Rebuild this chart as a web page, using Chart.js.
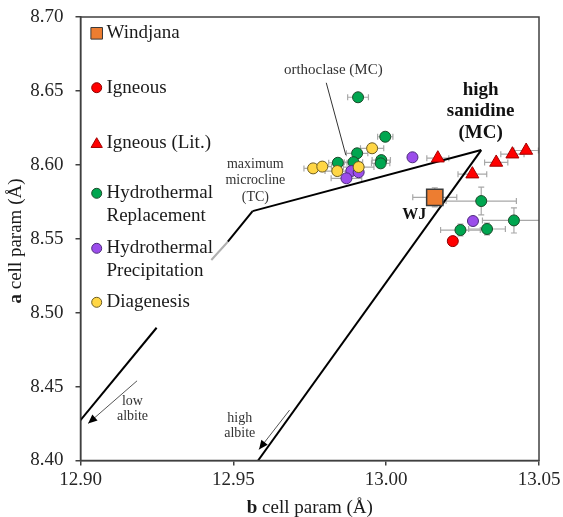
<!DOCTYPE html>
<html>
<head>
<meta charset="utf-8">
<script src="https://cdn.jsdelivr.net/npm/chart.js@4.4.1/dist/chart.umd.min.js"></script>
<style>
  html, body { margin: 0; padding: 0; background: #fff; }
</style>
</head>
<body>
<canvas id="cellChart" width="563" height="517"></canvas>
<script>
// axis ticks
const xTicks = [12.90, 12.95, 13.00, 13.05];
const yTicks = [8.40, 8.45, 8.50, 8.55, 8.60, 8.65, 8.70];

// Windjana
const wjB = [13.0159];
const wjA = [8.578];
const wjBErr = [0.0072];
const wjAErr = [0.0065];

// Igneous
const ignB = [13.0218];
const ignA = [8.5484];

// Igneous (Lit.)
const litB = [13.0169, 13.0282, 13.0360, 13.0413, 13.0458];
const litA = [8.6045, 8.5937, 8.6016, 8.6072, 8.6097];
const litBErr = [0.0036, 0.0047, 0.0038, 0.0038, 0.0040];

// Hydrothermal Replacement
const repB = [12.9908, 12.9997, 12.9905, 12.9984, 12.9982, 12.9842, 12.9893, 13.0311, 13.0418, 13.0330, 13.0243];
const repA = [8.6457, 8.6190, 8.6078, 8.6032, 8.6010, 8.6014, 8.6018, 8.5755, 8.5624, 8.5566, 8.5559];
const repBErr = [0.0034, 0.0025, 0.0035, 0.003, 0.003, 0.003, 0.003, 0.0115, 0.0103, 0.006, 0.0065];
const repAErr = [0, 0, 0, 0, 0, 0, 0, 0.0094, 0.0085, 0.004, 0.004];

// Hydrothermal Precipitation
const preB = [13.0086, 13.0284, 12.9886, 12.9910, 12.9870];
const preA = [8.6051, 8.5620, 8.5958, 8.5950, 8.5909];
const preBErr = [0, 0, 0, 0, 0.005];

// Diagenesis
const diaB = [12.9761, 12.9791, 12.9840, 12.9954, 12.9910];
const diaA = [8.5976, 8.5988, 8.5958, 8.6112, 8.5985];
const diaBErr = [0.003, 0.003, 0.004, 0.0038, 0.005];

// reference lines (b, a)
const microclineB = [12.90, 12.9249, 12.9428, 12.9482, 12.9563];
const microclineA = [8.4273, 8.4898, 8.5356, 8.548, 8.5687];
const sanidineB = [12.9563, 13.0311];
const sanidineA = [8.5687, 8.61];
const albiteB = [13.0311, 12.9581];
const albiteA = [8.61, 8.40];

const pts = (b, a) => b.map((v, i) => ({ x: v, y: a[i] }));
const serif = '"Liberation Serif", "Times New Roman", serif';

const errorBars = {
  id: 'errorBars',
  beforeDatasetsDraw(chart) {
    const { ctx, chartArea, scales: { x, y } } = chart;
    ctx.save();
    ctx.beginPath();
    ctx.rect(chartArea.left, chartArea.top, chartArea.width, chartArea.height);
    ctx.clip();
    ctx.strokeStyle = '#a8a8a8';
    ctx.lineWidth = 1.2;
    chart.data.datasets.forEach(ds => {
      if (!ds.errX && !ds.errY) return;
      ds.data.forEach((p, i) => {
        const px = x.getPixelForValue(p.x), py = y.getPixelForValue(p.y);
        const ex = ds.errX ? ds.errX[i] : 0;
        const ey = ds.errY ? ds.errY[i] : 0;
        ctx.beginPath();
        if (ex) {
          const l = x.getPixelForValue(p.x - ex), r = x.getPixelForValue(p.x + ex);
          ctx.moveTo(l, py); ctx.lineTo(r, py);
          ctx.moveTo(l, py - 3); ctx.lineTo(l, py + 3);
          ctx.moveTo(r, py - 3); ctx.lineTo(r, py + 3);
        }
        if (ey) {
          const t = y.getPixelForValue(p.y + ey), b = y.getPixelForValue(p.y - ey);
          ctx.moveTo(px, t); ctx.lineTo(px, b);
          ctx.moveTo(px - 3, t); ctx.lineTo(px + 3, t);
          ctx.moveTo(px - 3, b); ctx.lineTo(px + 3, b);
        }
        ctx.stroke();
      });
    });
    ctx.restore();
  }
};

function arrow(ctx, x1, y1, x2, y2) {
  ctx.strokeStyle = '#555';
  ctx.lineWidth = 1;
  ctx.beginPath(); ctx.moveTo(x1, y1); ctx.lineTo(x2, y2); ctx.stroke();
  const ang = Math.atan2(y2 - y1, x2 - x1);
  ctx.fillStyle = '#000';
  ctx.beginPath();
  ctx.moveTo(x2, y2);
  ctx.lineTo(x2 - 9 * Math.cos(ang) + 4 * Math.sin(ang), y2 - 9 * Math.sin(ang) - 4 * Math.cos(ang));
  ctx.lineTo(x2 - 9 * Math.cos(ang) - 4 * Math.sin(ang), y2 - 9 * Math.sin(ang) + 4 * Math.cos(ang));
  ctx.closePath();
  ctx.fill();
}

const extras = {
  id: 'extras',
  afterDatasetsDraw(chart) {
    const { ctx, chartArea: ca, scales: { x, y } } = chart;
    const X = v => x.getPixelForValue(v), Y = v => y.getPixelForValue(v);
    ctx.save();

    // frame
    ctx.strokeStyle = '#404040';
    ctx.lineWidth = 1.5;
    ctx.strokeRect(ca.left, ca.top, ca.right - ca.left, ca.bottom - ca.top);

    // orthoclase leader
    ctx.strokeStyle = '#333';
    ctx.lineWidth = 1;
    ctx.beginPath(); ctx.moveTo(X(12.9804), Y(8.6555)); ctx.lineTo(X(12.9868), Y(8.6066)); ctx.stroke();

    arrow(ctx, X(12.9185), Y(8.4539), X(12.9025), Y(8.4251));
    arrow(ctx, X(12.9684), Y(8.4341), X(12.9584), Y(8.4075));

    ctx.textAlign = 'center';
    ctx.textBaseline = 'middle';
    ctx.fillStyle = '#333';
    ctx.font = '15px ' + serif;
    ctx.fillText('orthoclase (MC)', X(12.9827), Y(8.6641));
    ctx.font = '14px ' + serif;
    ['maximum', 'microcline', '(TC)'].forEach((t, i) => ctx.fillText(t, X(12.9572), Y(8.6005) + i * 16.5));
    ['low', 'albite'].forEach((t, i) => ctx.fillText(t, X(12.917), Y(8.4397) + i * 15));
    ['high', 'albite'].forEach((t, i) => ctx.fillText(t, X(12.9521), Y(8.4285) + i * 15));

    ctx.fillStyle = '#111';
    ctx.font = 'bold 19px ' + serif;
    ['high', 'sanidine', '(MC)'].forEach((t, i) => ctx.fillText(t, X(13.0309), Y(8.6506) + i * 21.5));
    ctx.font = 'bold 16px ' + serif;
    ctx.fillText('WJ', X(13.0092), Y(8.566));

    // legend
    const rowY = [16.3, 70.7, 125.7, 176.3, 231.3, 285.3];
    const legendSets = chart.data.datasets.filter(d => d.legendIdx !== undefined)
      .sort((a, b) => a.legendIdx - b.legendIdx);
    ctx.textAlign = 'left';
    ctx.font = '19px ' + serif;
    legendSets.forEach((ds, i) => {
      const cy = ca.top + rowY[i];
      ctx.fillStyle = ds.backgroundColor;
      ctx.strokeStyle = ds.borderColor;
      ctx.lineWidth = 1;
      Chart.helpers.drawPoint(ctx, {
        pointStyle: ds.pointStyle, rotation: 0, borderWidth: 1,
        radius: ds.pointStyle === 'rect' ? 8.2 : ds.pointStyle === 'triangle' ? 6.5 : 5
      }, ca.left + 16.2, cy + (ds.pointStyle === 'triangle' ? 1.5 : 0));
      ctx.fillStyle = '#1a1a1a';
      ds.label.split('\n').forEach((t, j) => ctx.fillText(t, ca.left + 26, cy + j * 23));
    });

    // axis titles
    ctx.fillStyle = '#1a1a1a';
    const drawTitle = (cx, cy, rot, bold, rest) => {
      ctx.save();
      ctx.translate(cx, cy);
      ctx.rotate(rot);
      ctx.font = 'bold 19px ' + serif;
      const w1 = ctx.measureText(bold).width;
      ctx.font = '19px ' + serif;
      const w2 = ctx.measureText(rest).width;
      const x0 = -(w1 + w2) / 2;
      ctx.textAlign = 'left';
      ctx.font = 'bold 19px ' + serif;
      ctx.fillText(bold, x0, 0);
      ctx.font = '19px ' + serif;
      ctx.fillText(rest, x0 + w1, 0);
      ctx.restore();
    };
    drawTitle((ca.left + ca.right) / 2, 508, 0, 'b', ' cell param (Å)');
    drawTitle(16, 241, -Math.PI / 2, 'a', ' cell param (Å)');

    ctx.restore();
  }
};

const lineStyle = { type: 'line', showLine: true, pointRadius: 0, borderColor: '#000', borderWidth: 2, fill: false, order: 10 };

new Chart(document.getElementById('cellChart'), {
  type: 'scatter',
  data: {
    datasets: [
      { label: 'Windjana', legendIdx: 0, data: pts(wjB, wjA), errX: wjBErr, errY: wjAErr,
        pointStyle: 'rect', pointRadius: 11.5, backgroundColor: '#ED7D31', borderColor: '#3a3a3a', borderWidth: 1.5, order: 0 },
      { label: 'Igneous', legendIdx: 1, data: pts(ignB, ignA),
        pointStyle: 'circle', pointRadius: 5.5, backgroundColor: '#FF0000', borderColor: '#8b0000', borderWidth: 1, order: 5 },
      { label: 'Igneous (Lit.)', legendIdx: 2, data: pts(litB, litA), errX: litBErr,
        pointStyle: 'triangle', pointRadius: 7.5, backgroundColor: '#FF0000', borderColor: '#a00000', borderWidth: 1, order: 4 },
      { label: 'Hydrothermal\nReplacement', legendIdx: 3, data: pts(repB, repA), errX: repBErr, errY: repAErr,
        pointStyle: 'circle', pointRadius: 5.5, backgroundColor: '#00A650', borderColor: '#1c4a2a', borderWidth: 1, order: 3 },
      { label: 'Hydrothermal\nPrecipitation', legendIdx: 4, data: pts(preB, preA), errX: preBErr,
        pointStyle: 'circle', pointRadius: 5.5, backgroundColor: '#9B4DEB', borderColor: '#4b2a7a', borderWidth: 1, order: 2 },
      { label: 'Diagenesis', legendIdx: 5, data: pts(diaB, diaA), errX: diaBErr,
        pointStyle: 'circle', pointRadius: 5.5, backgroundColor: '#FFD645', borderColor: '#6b5b22', borderWidth: 1, order: 1 },
      { ...lineStyle, label: 'microcline', data: pts(microclineB, microclineA),
        segment: { borderColor: c => c.p0DataIndex === 1 ? 'rgba(0,0,0,0)' : c.p0DataIndex === 2 ? '#b0b0b0' : '#000' } },
      { ...lineStyle, label: 'sanidine', data: pts(sanidineB, sanidineA) },
      { ...lineStyle, label: 'albite', data: pts(albiteB, albiteA) }
    ]
  },
  options: {
    responsive: false,
    animation: false,
    layout: { padding: { top: 17, right: 24, left: 0, bottom: 0 } },
    plugins: { legend: { display: false }, tooltip: { enabled: false } },
    scales: {
      x: {
        type: 'linear', min: 12.90, max: 13.05,
        afterBuildTicks: s => { s.ticks = xTicks.map(v => ({ value: v })); },
        afterFit: s => { s.height = 56.5; s.paddingLeft = 0; s.paddingRight = 0; },
        grid: { drawOnChartArea: false, tickLength: 5, color: '#404040', lineWidth: 1.5 },
        border: { color: '#404040', width: 1.5 },
        ticks: { font: { family: serif, size: 19 }, color: '#262626', padding: 3, maxRotation: 0, autoSkip: false,
          callback: v => v.toFixed(2) }
      },
      y: {
        type: 'linear', min: 8.40, max: 8.70,
        afterBuildTicks: s => { s.ticks = yTicks.map(v => ({ value: v })); },
        afterFit: s => { s.width = 80.5; s.paddingTop = 0; s.paddingBottom = 0; },
        grid: { drawOnChartArea: false, tickLength: 5, color: '#404040', lineWidth: 1.5 },
        border: { color: '#404040', width: 1.5 },
        ticks: { font: { family: serif, size: 19 }, color: '#262626', padding: 12, autoSkip: false,
          callback: v => v.toFixed(2) }
      }
    }
  },
  plugins: [errorBars, extras]
});
</script>
</body>
</html>
